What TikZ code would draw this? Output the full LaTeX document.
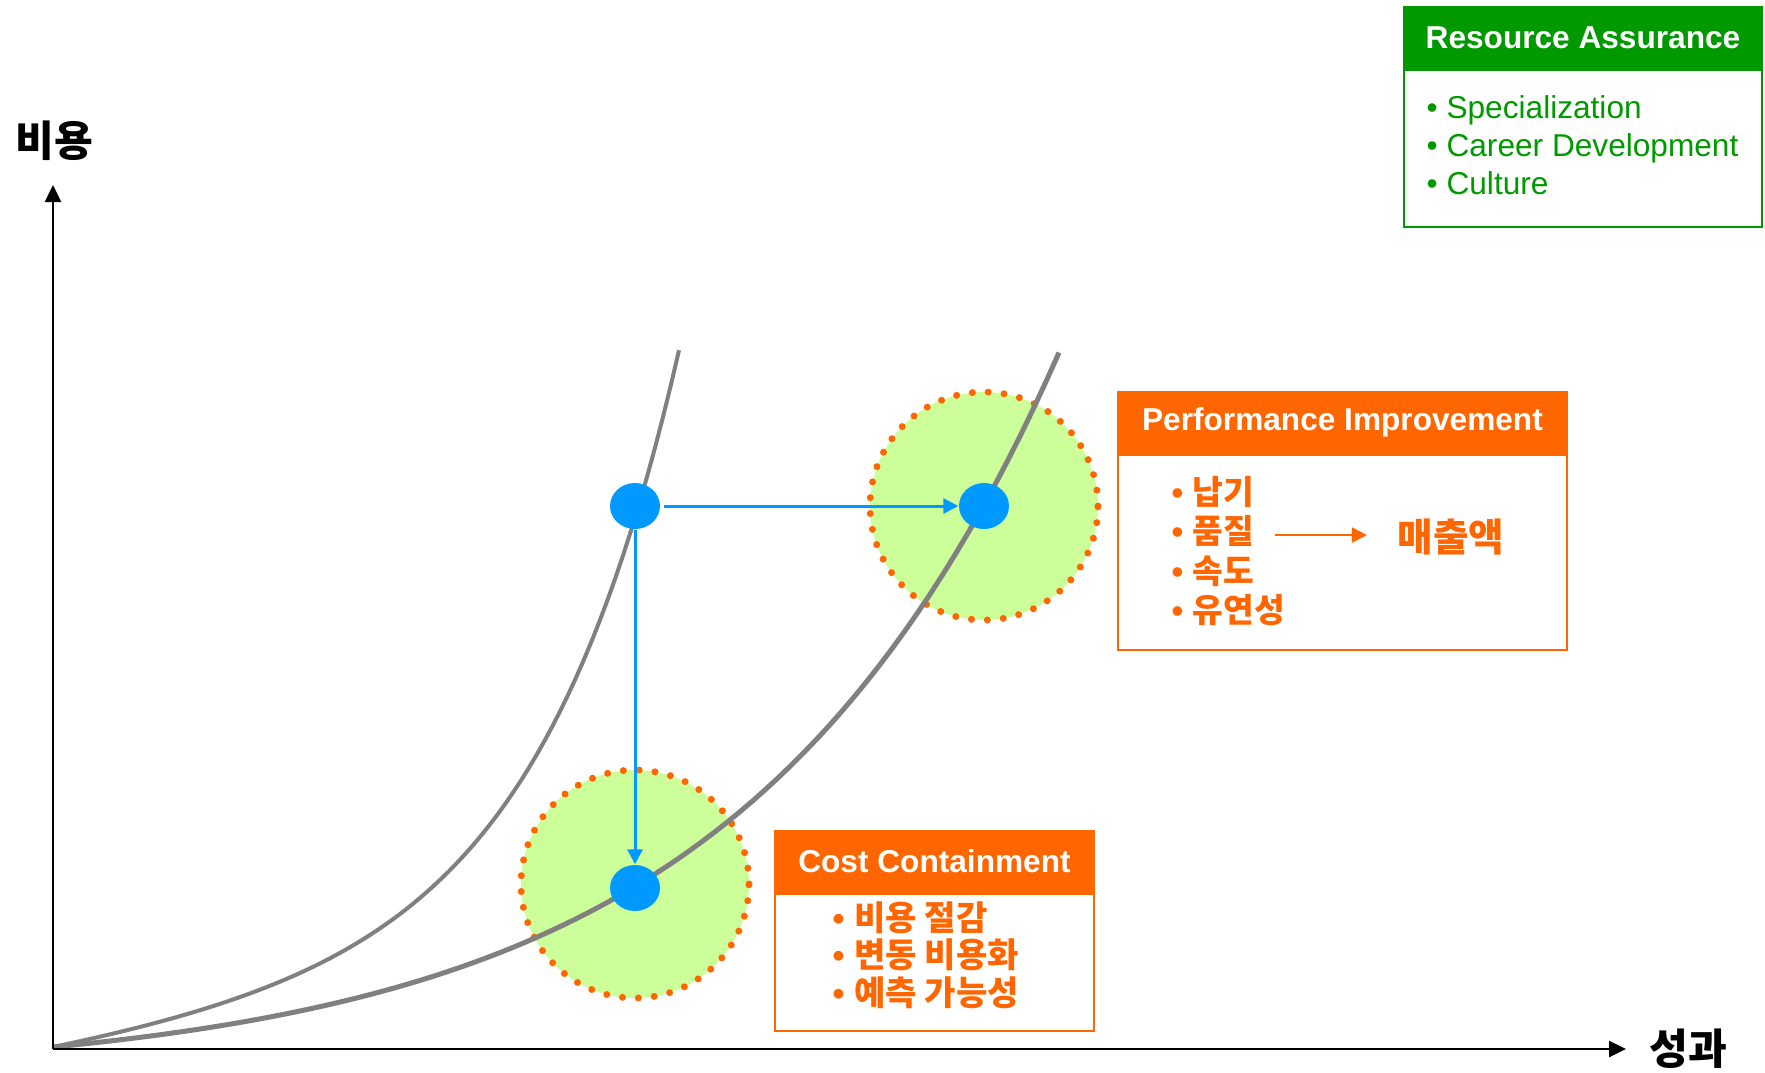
\documentclass[tikz,border=0pt]{standalone}
\usepackage{fontspec}
\setmainfont{Liberation Sans}
\newfontfamily\kr{Noto Sans CJK KR}
\usetikzlibrary{arrows.meta}
\usetikzlibrary{shapes.geometric}
\usetikzlibrary{positioning}

\definecolor{sorange}{RGB}{255,102,0}
\definecolor{sgreen}{RGB}{0,153,0}
\definecolor{lgreen}{RGB}{204,255,153}
\definecolor{sblue}{RGB}{0,153,255}
\definecolor{cgray}{RGB}{128,128,128}

\tikzset{
  axis/.style={black, line width=0.25mm, -{Triangle[length=1.7mm,width=1.6mm]}},
  curve/.style={cgray, line width=0.4mm},
  zone/.style={fill=lgreen, draw=sorange, line width=0.7mm, line cap=round, dash pattern=on 0pt off 1.59mm},
  spot/.style={ellipse, fill=sblue, minimum width=5mm, minimum height=4.6mm, inner sep=0pt},
  flow/.style={sblue, line width=0.3mm, -{Triangle[length=1.5mm,width=1.5mm]}},
  head/.style={anchor=north west, fill=#1, draw=#1, line width=0.2mm, text=white, font=\bfseries\fontsize{9}{11}\selectfont, minimum height=6.1mm, inner sep=0pt},
  body/.style={anchor=north west, draw=#1, line width=0.2mm, inner sep=0pt},
  list/.style={anchor=west, align=left, text=#1, inner sep=0pt},
}

\begin{document}
\begin{tikzpicture}[x=0.1mm, y=-0.1mm]
\useasboundingbox (0,0) rectangle (1765,1072);
% green zones
\path[zone] (984,506) circle (11.4mm);
\path[zone] (635,884) circle (11.4mm);
% cost curves
\draw[curve] plot[domain=53:679, samples=80] (\x, {1047-0.158*(\x-53)-7.55*(exp(0.007*(\x-53))-1)});
\draw[curve, line width=0.5mm] plot[domain=53:1059, samples=80] (\x, {1047-30.7*(exp(0.00315*(\x-53))-1)});
% axes
\coordinate (o) at (53,1049);
\coordinate (ytop) at (53,185);
\coordinate (xend) at (1626,1049);
\draw[axis] (o) -- (ytop);
\draw[axis] (o) -- (xend);
\node[font=\kr\bfseries\fontsize{12}{13}\selectfont] (ylab) at (54,141) {비용};
\node[font=\kr\bfseries\fontsize{12}{13}\selectfont] (xlab) at (1688,1049) {성과};
% points
\node[spot] (pa) at (635,506) {};
\node[spot] (pb) at (984,506) {};
\node[spot] (pc) at (635,888) {};
\draw[flow, shorten <=0.3mm] (pa) -- (pb);
\draw[flow] (pa) -- (pc);
% Resource Assurance
\node[head=sgreen, minimum width=35.8mm] (rah) at (1403,6) {Resource Assurance};
\node[body=sgreen, minimum width=35.8mm, minimum height=15.7mm] (rab) at (rah.south west) {};
\node[list=sgreen, font=\fontsize{9}{10.8}\selectfont] (ral) at (1426,145) {• Specialization\\• Career Development\\• Culture};
% Performance Improvement
\node[head=sorange, minimum width=44.9mm] (pih) at (1117,391) {Performance Improvement};
\node[body=sorange, minimum width=44.9mm, minimum height=19.5mm] (pib) at (pih.south west) {};
\node[list=sorange, font=\bfseries\fontsize{9.5}{11.1}\selectfont] (pil) at (1171,551) {• {\kr 납기}\\• {\kr 품질}\\• {\kr 속도}\\• {\kr 유연성}};
\coordinate (qa) at (1275,535);
\node[text=sorange, inner sep=0pt, font=\kr\bfseries\fontsize{11}{12}\selectfont] (sales) at (1451,537) {매출액};
\draw[sorange, line width=0.2mm, -{Triangle[length=1.5mm,width=1.5mm]}, shorten >=3mm] (qa) -- (qa -| sales.west);
% Cost Containment
\node[head=sorange, minimum width=31.9mm] (cch) at (774,830) {Cost Containment};
\node[body=sorange, minimum width=31.9mm, minimum height=13.7mm] (ccb) at (cch.south west) {};
\node[list=sorange, font=\bfseries\fontsize{9.7}{10.7}\selectfont] (ccl) at (832,955) {• {\kr 비용 절감}\\• {\kr 변동 비용화}\\• {\kr 예측 가능성}};
\end{tikzpicture}
\end{document}
